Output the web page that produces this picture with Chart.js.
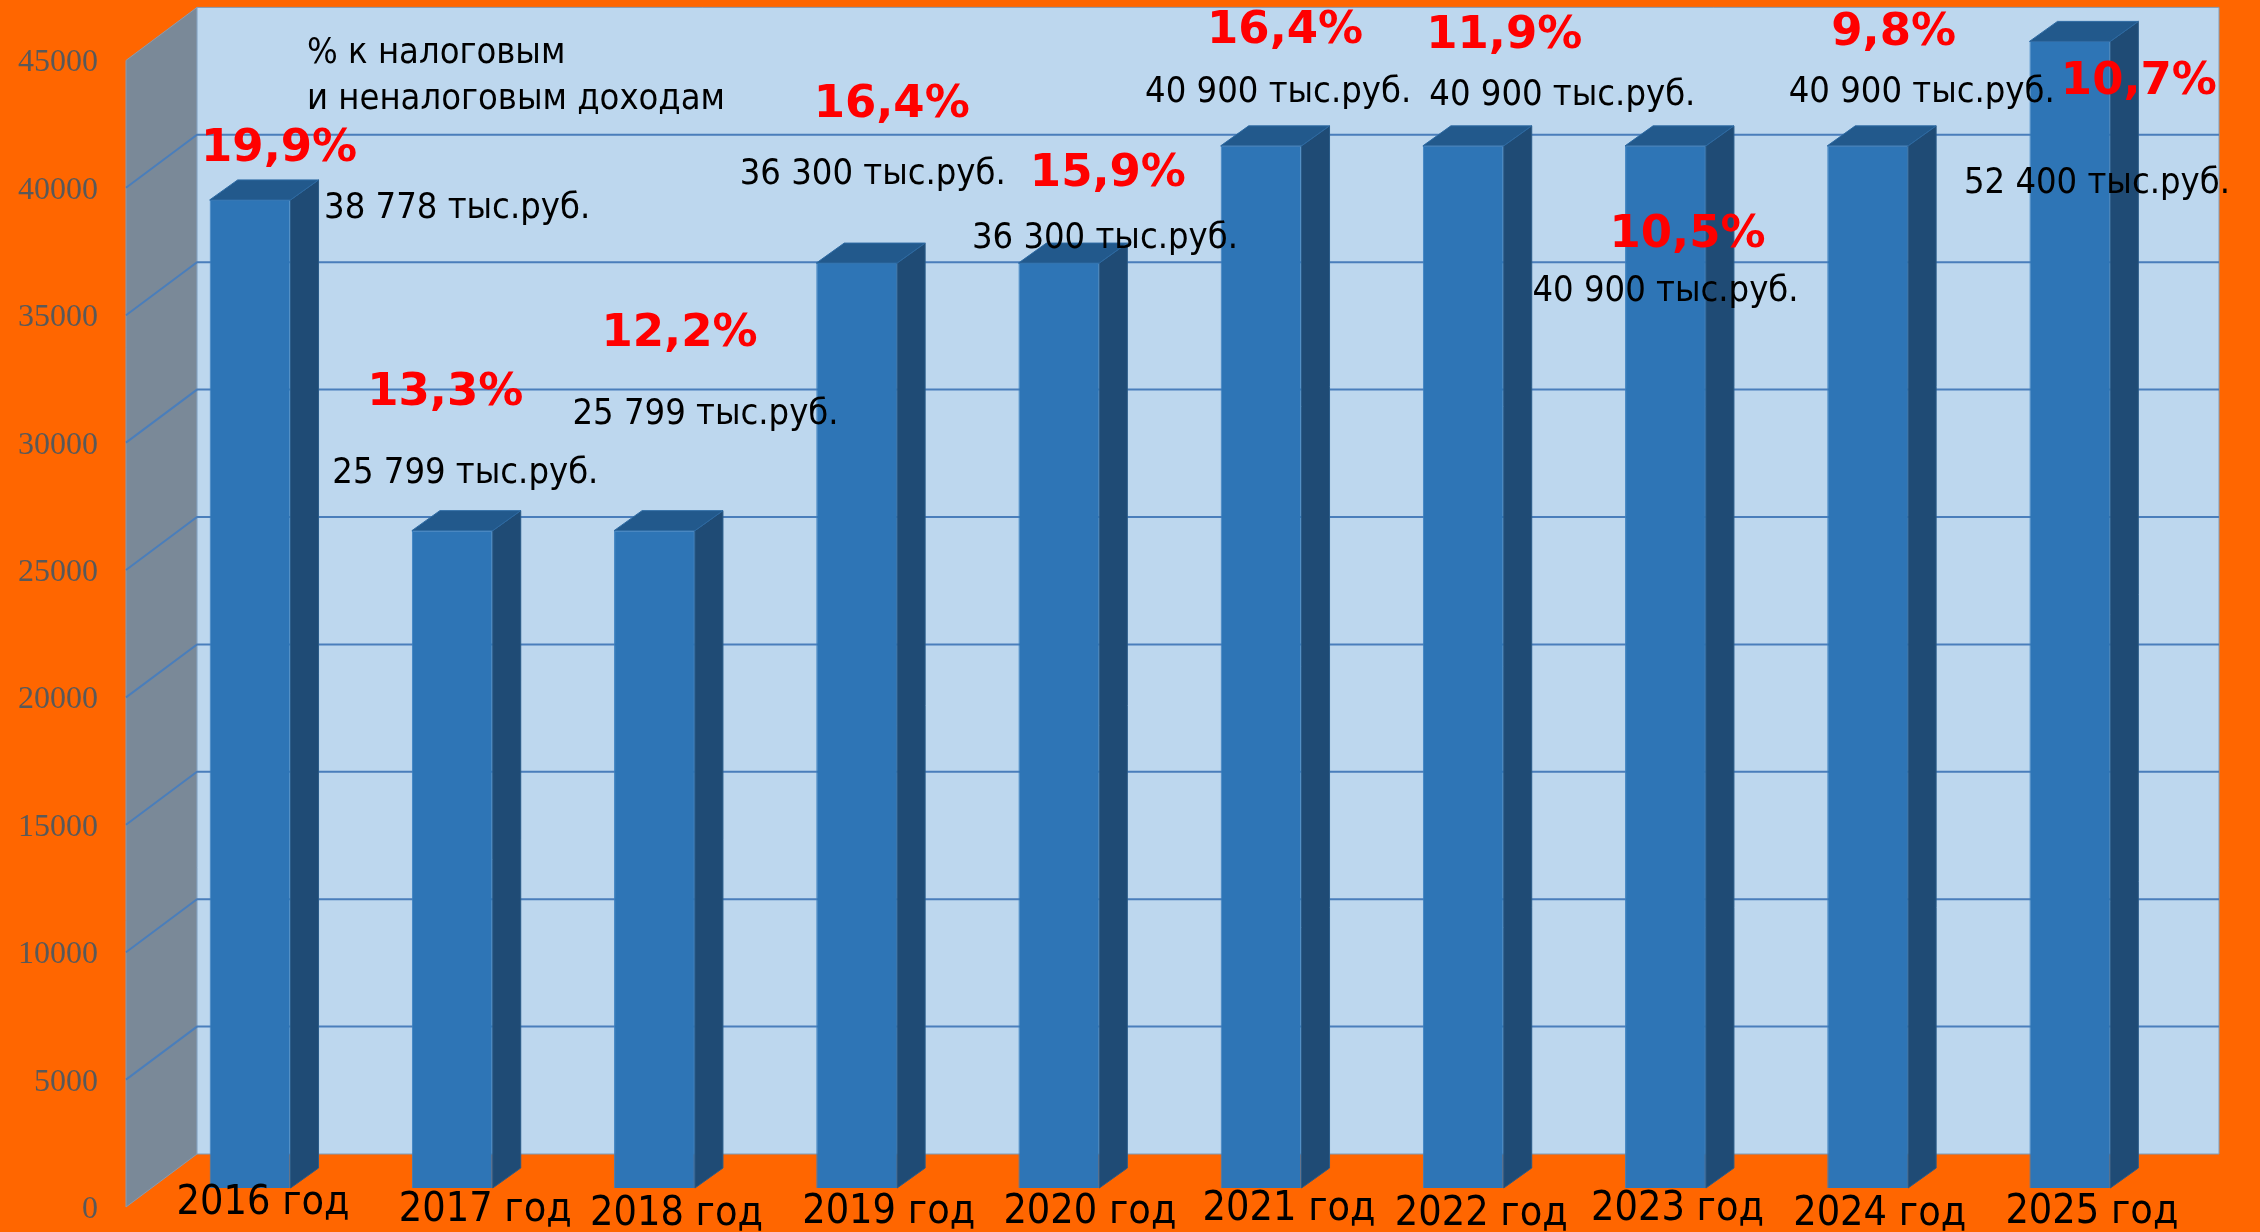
<!DOCTYPE html>
<html>
<head>
<meta charset="utf-8">
<script src="https://cdn.jsdelivr.net/npm/chart.js@4.4.1/dist/chart.umd.min.js"></script>
<style>
  html, body { margin: 0; padding: 0; background: #ff6600; }
  canvas { display: block; }
</style>
</head>
<body>
<canvas id="budget" width="2260" height="1232"></canvas>
<script>
const years = ['2016 год', '2017 год', '2018 год', '2019 год', '2020 год',
               '2021 год', '2022 год', '2023 год', '2024 год', '2025 год'];
// тыс. руб.
const amounts = [38778, 25799, 25799, 36300, 36300, 40900, 40900, 40900, 40900, 52400];
// % к налоговым и неналоговым доходам
const shares = [19.9, 13.3, 12.2, 16.4, 15.9, 16.4, 11.9, 10.5, 9.8, 10.7];
const yMax = 45000;
const yStep = 5000;
const noteLines = ['% к налоговым', 'и неналоговым доходам'];

// captions were placed by hand, so each one gets its own nudge: [dx from bar centre, y]
const sharePos = [[29, 145], [-7, 389], [25, 330], [35, 101], [49, 170],
                  [24, 27], [41, 32], [22, 231], [26, 29], [69, 78]];
const amountPos = [[74, 205], [-120, 470], [-82, 411], [-117, 171], [-87, 235],
                   [-116, 89], [-34, 92], [-133, 288], [-79, 89], [-106, 180]];
const yearPos = [[13, 1199], [33, 1206], [22, 1210], [32, 1208], [31, 1208],
                 [28, 1205], [18, 1210], [12, 1205], [12, 1210], [22, 1208]];

// 3d offsets relative to the plane of the bar fronts
const WALL_FRONT = { dx: -23, dy: 19 };
const WALL_BACK = { dx: 48, dy: -34 };
const BAR_DEPTH = { dx: 28, dy: -20 };

const fmtAmount = v => String(v).replace(/\B(?=(\d{3})+(?!\d))/g, ' ') + ' тыс.руб.';
const fmtShare = v => v.toFixed(1).replace('.', ',') + '%';

function poly(ctx, pts, fill, stroke) {
  ctx.beginPath();
  ctx.moveTo(pts[0][0], pts[0][1]);
  for (let i = 1; i < pts.length; i++) ctx.lineTo(pts[i][0], pts[i][1]);
  ctx.closePath();
  ctx.fillStyle = fill;
  ctx.fill();
  if (stroke) {
    ctx.strokeStyle = stroke;
    ctx.lineWidth = 1;
    ctx.stroke();
  }
}

const box3d = {
  id: 'box3d',
  beforeDraw(chart) {
    const { ctx, width, height } = chart;
    ctx.save();
    ctx.fillStyle = '#ff6600';
    ctx.fillRect(0, 0, width, height);
    ctx.restore();
  },
  beforeDatasetsDraw(chart) {
    const { ctx, chartArea: a, scales: { y } } = chart;
    const top = y.getPixelForValue(yMax);
    const base = y.getPixelForValue(0);
    const fl = a.left + WALL_FRONT.dx;
    const bl = a.left + WALL_BACK.dx;
    const br = a.right + WALL_BACK.dx;
    ctx.save();
    // side wall
    poly(ctx, [[fl, top + WALL_FRONT.dy], [bl, top + WALL_BACK.dy],
               [bl, base + WALL_BACK.dy], [fl, base + WALL_FRONT.dy]], '#7a8998', '#8a9bb0');
    // back wall
    poly(ctx, [[bl, top + WALL_BACK.dy], [br, top + WALL_BACK.dy],
               [br, base + WALL_BACK.dy], [bl, base + WALL_BACK.dy]], '#bdd7ee', '#7f9dbb');
    // grid lines wrap from the side wall onto the back wall
    ctx.strokeStyle = '#4a7ebb';
    ctx.lineWidth = 2;
    y.ticks.forEach(t => {
      if (t.value <= 0 || t.value >= yMax) return;
      const py = y.getPixelForValue(t.value);
      ctx.beginPath();
      ctx.moveTo(fl, py + WALL_FRONT.dy);
      ctx.lineTo(bl, py + WALL_BACK.dy);
      ctx.lineTo(br, py + WALL_BACK.dy);
      ctx.stroke();
    });
    ctx.restore();
  },
  afterDatasetsDraw(chart) {
    const { ctx, chartArea: a } = chart;
    const { dx, dy } = BAR_DEPTH;
    ctx.save();
    chart.getDatasetMeta(0).data.forEach(bar => {
      const p = bar.getProps(['x', 'y', 'base', 'width'], true);
      const t = Math.max(p.y, a.top);
      const l = p.x - p.width / 2;
      const r = p.x + p.width / 2;
      poly(ctx, [[r, t], [r + dx, t + dy], [r + dx, p.base + dy], [r, p.base]], '#1f4b75', '#2a5b88');
      poly(ctx, [[l, t], [l + dx, t + dy], [r + dx, t + dy], [r, t]], '#22598c', '#2d6aa3');
    });
    ctx.restore();
  },
  afterDraw(chart) {
    const { ctx, chartArea: a, scales: { x, y } } = chart;
    ctx.save();
    ctx.textBaseline = 'alphabetic';

    // value axis, printed on the front edge of the side wall
    ctx.font = '32px "Liberation Serif"';
    ctx.fillStyle = '#595959';
    ctx.textAlign = 'right';
    y.ticks.forEach(t => {
      const py = y.getPixelForValue(t.value) + WALL_FRONT.dy;
      ctx.fillText(String(t.value), a.left + WALL_FRONT.dx - 28, py + 11);
    });

    ctx.fillStyle = '#000';
    ctx.textAlign = 'center';
    ctx.font = '41px "DejaVu Sans Condensed"';
    years.forEach((lab, i) => {
      ctx.fillText(lab, x.getPixelForValue(i) + yearPos[i][0], yearPos[i][1] + 15);
    });

    ctx.textAlign = 'left';
    ctx.font = '36px "DejaVu Sans Condensed"';
    noteLines.forEach((s, i) => ctx.fillText(s, 307, 63 + i * 46));
    amounts.forEach((v, i) => {
      ctx.fillText(fmtAmount(v), x.getPixelForValue(i) + amountPos[i][0], amountPos[i][1] + 13);
    });

    ctx.textAlign = 'center';
    ctx.font = 'bold 45px "DejaVu Sans"';
    ctx.fillStyle = '#ff0000';
    shares.forEach((v, i) => {
      ctx.fillText(fmtShare(v), x.getPixelForValue(i) + sharePos[i][0], sharePos[i][1] + 16);
    });
    ctx.restore();
  }
};

new Chart(document.getElementById('budget'), {
  type: 'bar',
  data: {
    labels: years,
    datasets: [{
      data: amounts,
      backgroundColor: '#2e75b6',
      borderColor: '#3b80c0',
      borderWidth: 1,
      barPercentage: 0.4,
      categoryPercentage: 1,
      clip: 0
    }]
  },
  options: {
    responsive: false,
    animation: false,
    devicePixelRatio: 1,
    layout: { padding: { left: 149, right: 89, top: 41.4, bottom: 44 } },
    scales: {
      x: { display: false },
      y: { display: false, min: 0, max: yMax, ticks: { stepSize: yStep } }
    },
    plugins: { legend: { display: false }, tooltip: { enabled: false } }
  },
  plugins: [box3d]
});
</script>
</body>
</html>
